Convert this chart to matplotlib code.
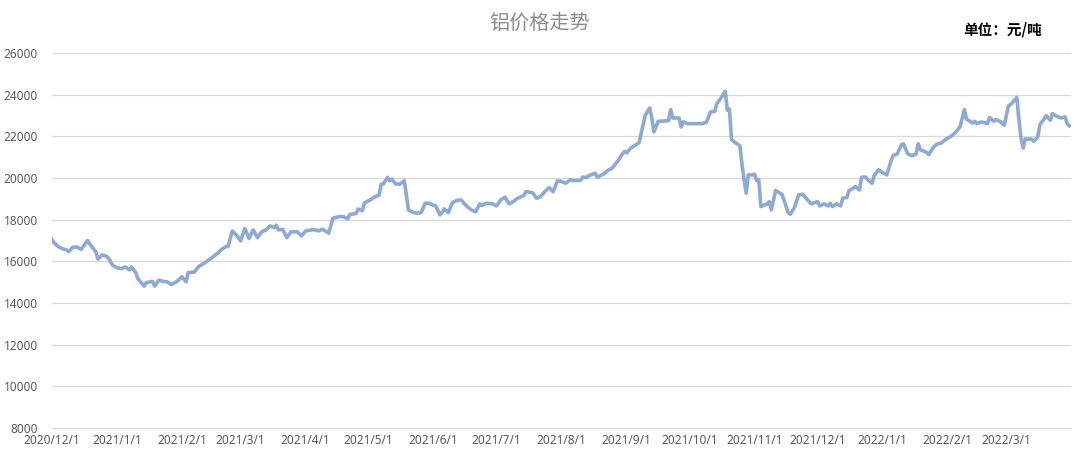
import numpy as np
import matplotlib
matplotlib.use("Agg")
import matplotlib.pyplot as plt
from datetime import datetime, timedelta

plt.rcParams['font.family'] = ['Noto Sans CJK SC', 'DejaVu Sans']

# data: days after 2020/12/1 and price (yuan/ton)
start = datetime(2020, 12, 1)
day_offset = [
    0, 1, 3, 5, 7, 8, 10, 12, 14, 17, 19, 21, 22, 24, 26, 27, 29, 31, 33, 35,
    37, 38, 40, 41, 44, 45, 48, 49, 51, 53, 55, 57, 60, 62, 64, 65, 68, 70, 73, 76,
    79, 81, 83, 84, 86, 88, 90, 92, 94, 96, 98, 100, 102, 104, 106, 107, 108, 110, 112, 114,
    117, 119, 121, 124, 126, 127, 129, 131, 132, 134, 137, 139, 141, 142, 145, 146, 148, 149, 152, 154,
    156, 157, 158, 160, 161, 162, 164, 166, 168, 170, 172, 174, 176, 178, 180, 182, 183, 185, 186, 187,
    189, 191, 193, 195, 198, 200, 202, 204, 205, 207, 210, 212, 214, 216, 218, 220, 222, 225, 226, 229,
    230, 231, 233, 235, 237, 239, 241, 243, 245, 247, 249, 252, 253, 255, 256, 259, 260, 263, 265, 267,
    268, 270, 272, 273, 274, 276, 279, 280, 282, 283, 285, 286, 287, 289, 291, 294, 295, 296, 299, 300,
    301, 303, 306, 310, 312, 314, 316, 317, 319, 321, 322, 323, 324, 326, 328, 329, 330, 331, 332, 334,
    335, 336, 337, 338, 341, 342, 343, 345, 348, 349, 351, 352, 354, 356, 358, 360, 362, 365, 366, 368,
    370, 371, 372, 374, 376, 377, 379, 380, 382, 383, 385, 386, 388, 389, 391, 392, 394, 396, 398, 400,
    401, 403, 405, 406, 408, 410, 412, 413, 414, 417, 418, 420, 421, 422, 424, 426, 429, 431, 433, 435,
    436, 439, 440, 441, 443, 445, 446, 447, 449, 450, 452, 453, 454, 456, 457, 458, 460, 461, 462, 463,
    464, 467, 468, 470, 471, 473, 474, 476, 477, 479, 481, 483, 484, 485,
]
price = [
    17060, 16900, 16710, 16610, 16550, 16470, 16680, 16690, 16580, 17000, 16710, 16450, 16100, 16310, 16240, 16150, 15810, 15700, 15650, 15730,
    15590, 15730, 15460, 15170, 14810, 14980, 15040, 14810, 15100, 15040, 15020, 14880, 15060, 15260, 15020, 15460, 15490, 15750, 15940, 16150,
    16390, 16580, 16710, 16710, 17460, 17260, 16980, 17580, 17100, 17510, 17140, 17420, 17510, 17700, 17620, 17740, 17510, 17540, 17140, 17420,
    17420, 17220, 17460, 17510, 17510, 17460, 17540, 17420, 17350, 18070, 18150, 18150, 18030, 18250, 18300, 18510, 18430, 18800, 18960, 19100,
    19180, 19710, 19710, 20030, 19870, 19950, 19710, 19710, 19870, 18470, 18360, 18310, 18340, 18790, 18780, 18680, 18660, 18230, 18340, 18520,
    18340, 18820, 18920, 18950, 18630, 18470, 18380, 18760, 18680, 18790, 18760, 18660, 18950, 19080, 18760, 18870, 19030, 19160, 19350, 19300,
    19190, 19030, 19110, 19350, 19540, 19340, 19870, 19830, 19750, 19910, 19880, 19880, 20040, 20030, 20110, 20230, 20040, 20190, 20360, 20470,
    20590, 20840, 21160, 21280, 21200, 21440, 21630, 21710, 22640, 23040, 23360, 22880, 22210, 22720, 22730, 22750, 23280, 22880, 22880, 22450,
    22700, 22610, 22610, 22610, 22670, 23170, 23200, 23570, 23840, 24160, 23250, 23310, 21840, 21680, 21550, 20640, 19910, 19270, 20150, 20150,
    20180, 19880, 19910, 18630, 18760, 18870, 18470, 19400, 19220, 18950, 18340, 18260, 18580, 19190, 19220, 18980, 18760, 18870, 18660, 18760,
    18660, 18790, 18630, 18760, 18660, 19030, 19060, 19400, 19510, 19590, 19430, 20040, 20040, 19910, 19750, 20120, 20390, 20270, 20150, 20800,
    21070, 21160, 21600, 21640, 21160, 21070, 21160, 21640, 21360, 21230, 21120, 21440, 21550, 21630, 21680, 21840, 22030, 22210, 22480, 23280,
    22830, 22640, 22720, 22610, 22690, 22640, 22610, 22910, 22720, 22800, 22720, 22610, 22530, 23470, 23520, 23630, 23870, 22800, 21920, 21440,
    21870, 21870, 21760, 21970, 22560, 22830, 22990, 22770, 23090, 22960, 22880, 22930, 22610, 22510,
]
tick_labels = ['2020/12/1', '2021/1/1', '2021/2/1', '2021/3/1', '2021/4/1', '2021/5/1',
               '2021/6/1', '2021/7/1', '2021/8/1', '2021/9/1', '2021/10/1', '2021/11/1',
               '2021/12/1', '2022/1/1', '2022/2/1', '2022/3/1']
y_ticks = [8000, 10000, 12000, 14000, 16000, 18000, 20000, 22000, 24000, 26000]

dates = [start + timedelta(days=d) for d in day_offset]
tick_dates = [datetime.strptime(s, '%Y/%m/%d') for s in tick_labels]

fig = plt.figure(figsize=(10.8, 4.58), dpi=100)
ax = fig.add_axes([0.048, 0.064, 0.944, 0.8203])

ax.plot(dates, price, color='#8EA9D2', lw=2.6, solid_joinstyle='round', zorder=3)

ax.set_xlim(start, start + timedelta(days=486))
ax.set_ylim(7970, 26000)
ax.set_yticks(y_ticks)
ax.set_yticklabels([str(v) for v in y_ticks], family='Noto Sans', fontsize=8.5)
ax.set_xticks(tick_dates)
ax.set_xticklabels(tick_labels, family='Noto Sans', fontsize=8.5)
ax.yaxis.grid(True, color='#D9D9D9', lw=0.9)
ax.set_axisbelow(True)
for s in ax.spines.values():
    s.set_visible(False)
ax.tick_params(length=0, labelcolor='#595959')
ax.tick_params(axis='y', pad=10)
ax.tick_params(axis='x', pad=4)

fig.text(0.5, 0.95, '铝价格走势', ha='center', va='center', fontsize=14.5,
         color='#8C8C8C')
fig.text(0.965, 0.935, '单位：元/吨', ha='right', va='center', fontsize=10.5,
         fontweight='bold', color='black')

fig.savefig('out.png', dpi=100, facecolor='white')
